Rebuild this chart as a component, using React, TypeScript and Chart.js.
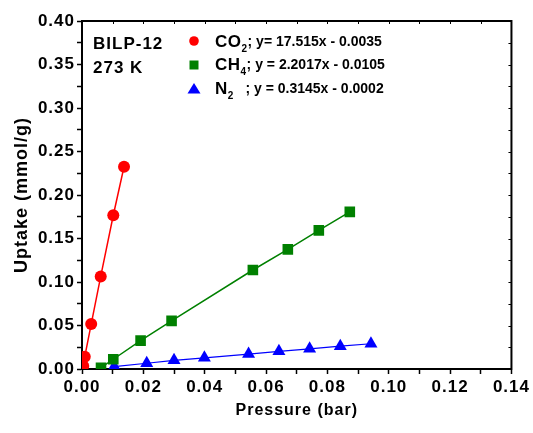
import React, { useEffect, useRef } from "react";
import { Chart, registerables } from "chart.js";

Chart.register(...registerables);

// ---- data ----
const co2Pressure = [0.0004, 0.0009, 0.003, 0.0061, 0.0102, 0.0137];
const co2Uptake = [0.0035, 0.0142, 0.0516, 0.1064, 0.1767, 0.2325];

const ch4Pressure = [0.0062, 0.0102, 0.0191, 0.0292, 0.0557, 0.0671, 0.0772, 0.0873];
const ch4Uptake = [0.0015, 0.0112, 0.0326, 0.0553, 0.1138, 0.1375, 0.1594, 0.1806];

const n2Pressure = [0.0105, 0.0211, 0.03, 0.0399, 0.0543, 0.0642, 0.0742, 0.0842, 0.0942];
const n2Uptake = [0.0028, 0.0066, 0.01, 0.0128, 0.0171, 0.0203, 0.0232, 0.0262, 0.029];

const xMin = 0;
const xMax = 0.14;
const xMajor = 0.02;
const xMinor = 0.01;
const yMin = 0;
const yMax = 0.4;
const yMajor = 0.05;
const yMinor = 0.025;

const sampleName = "BILP-12";
const temperature = "273 K";
const legendItems = [
  { gas: "CO", sub: "2", gap: "", eq: "; y= 17.515x - 0.0035", color: "#ff0000", shape: "circle" },
  { gas: "CH", sub: "4", gap: "", eq: "; y = 2.2017x - 0.0105", color: "#008000", shape: "rect" },
  { gas: "N", sub: "2", gap: "   ", eq: "; y = 0.3145x - 0.0002", color: "#0000ff", shape: "triangle" },
];

const FONT = "'Liberation Sans', Arial, Helvetica, sans-serif";

const zip = (xs: number[], ys: number[]) => xs.map((x, i) => ({ x, y: ys[i] }));

const isMultiple = (v: number, step: number) => {
  const r = v / step;
  return Math.abs(r - Math.round(r)) < 1e-6;
};

const spacingPlugin = {
  id: "spacing",
  beforeLayout(chart: any) {
    chart.ctx.letterSpacing = "1px";
  },
  beforeDraw(chart: any) {
    chart.ctx.letterSpacing = "1px";
  },
};

const framePlugin = {
  id: "frame",
  beforeDatasetsDraw(chart: any) {
    const { ctx, chartArea } = chart;
    const { left, right, top, bottom } = chartArea;
    ctx.save();
    ctx.strokeStyle = "#000";
    ctx.lineWidth = 2;
    ctx.beginPath();
    ctx.moveTo(left - 1, top);
    ctx.lineTo(right, top);
    ctx.lineTo(right, bottom + 1);
    ctx.stroke();
    ctx.lineWidth = 1;
    const xs = chart.scales.x;
    const ys = chart.scales.y;
    for (let v = xMin; v <= xMax + 1e-9; v += xMinor) {
      const px = Math.round(xs.getPixelForValue(v)) + 0.5;
      ctx.beginPath();
      ctx.moveTo(px, top);
      ctx.lineTo(px, top + 3);
      ctx.stroke();
    }
    for (let v = yMin; v <= yMax + 1e-9; v += yMinor) {
      const py = Math.round(ys.getPixelForValue(v)) + 0.5;
      ctx.beginPath();
      ctx.moveTo(right, py);
      ctx.lineTo(right - 3, py);
      ctx.stroke();
    }
    ctx.restore();
  },
};

const legendPlugin = {
  id: "customLegend",
  afterDraw(chart: any) {
    const { ctx } = chart;
    ctx.save();
    ctx.letterSpacing = "1px";
    ctx.fillStyle = "#000";
    ctx.textBaseline = "middle";
    ctx.textAlign = "left";
    ctx.font = `bold 17px ${FONT}`;
    ctx.fillText(sampleName, 93, 44);
    ctx.fillText(temperature, 93, 68);

    const rows = [42, 65, 89];
    legendItems.forEach((item, i) => {
      const y = rows[i];
      const mx = 194;
      ctx.fillStyle = item.color;
      ctx.beginPath();
      if (item.shape === "circle") {
        ctx.arc(mx, y - 1, 4.8, 0, Math.PI * 2);
      } else if (item.shape === "rect") {
        ctx.rect(mx - 4.5, y - 4.5, 9, 9);
      } else {
        ctx.moveTo(mx, y - 6);
        ctx.lineTo(mx + 6.5, y + 4.5);
        ctx.lineTo(mx - 6.5, y + 4.5);
        ctx.closePath();
      }
      ctx.fill();

      ctx.fillStyle = "#000";
      let x = 215;
      ctx.letterSpacing = "0.5px";
      ctx.font = `bold 17px ${FONT}`;
      ctx.fillText(item.gas, x, y);
      x += ctx.measureText(item.gas).width;
      ctx.font = `bold 10px ${FONT}`;
      ctx.fillText(item.sub, x, y + 7);
      x += ctx.measureText(item.sub).width;
      ctx.letterSpacing = "0px";
      ctx.font = `bold 14px ${FONT}`;
      const text = item.gap + item.eq;
      const target = 386 - x;
      const w = ctx.measureText(text).width;
      ctx.save();
      ctx.translate(x, y);
      ctx.scale(Math.min(1, target / w), 1);
      ctx.fillText(text, 0, 0);
      ctx.restore();
    });
    ctx.restore();
  },
};

export default function App() {
  const ref = useRef<HTMLCanvasElement | null>(null);

  useEffect(() => {
    if (!ref.current) return;
    const tickFont = { family: FONT, size: 17, weight: "bold" as const };
    const chart = new Chart(ref.current, {
      type: "line",
      data: {
        datasets: [
          {
            label: "CO2",
            data: zip(co2Pressure, co2Uptake),
            borderColor: "#ff0000",
            backgroundColor: "#ff0000",
            borderWidth: 1.5,
            pointStyle: "circle",
            pointRadius: 6,
            pointBorderWidth: 0,
            tension: 0,
          },
          {
            label: "CH4",
            data: zip(ch4Pressure, ch4Uptake),
            borderColor: "#008000",
            backgroundColor: "#008000",
            borderWidth: 1.5,
            pointStyle: "rect",
            pointRadius: 7.5,
            pointBorderWidth: 0,
            tension: 0,
          },
          {
            label: "N2",
            data: zip(n2Pressure, n2Uptake),
            borderColor: "#0000ff",
            backgroundColor: "#0000ff",
            borderWidth: 1.2,
            pointStyle: "triangle",
            pointRadius: 7.5,
            pointBorderWidth: 0,
            tension: 0,
          },
        ],
      },
      options: {
        animation: false,
        responsive: false,
        events: [],
        layout: { padding: { top: 21, right: 21, left: 0, bottom: 0 } },
        plugins: {
          legend: { display: false },
          tooltip: { enabled: false },
        },
        scales: {
          x: {
            type: "linear",
            min: xMin,
            max: xMax,
            afterFit: (s: any) => {
              s.height = 64;
            },
            ticks: {
              stepSize: xMinor,
              autoSkip: false,
              maxRotation: 0,
              padding: 3,
              color: "#000",
              font: tickFont,
              callback: (v: any) => (isMultiple(Number(v), xMajor) ? Number(v).toFixed(2) : ""),
            },
            grid: {
              drawOnChartArea: false,
              drawTicks: true,
              tickLength: 5,
              tickColor: "#000",
              tickWidth: 1.5,
            },
            border: { display: true, color: "#000", width: 2 },
            title: {
              display: true,
              text: "Pressure (bar)",
              color: "#000",
              font: { family: FONT, size: 16, weight: "bold" as const },
              padding: { top: 0, bottom: 13 },
            },
          },
          y: {
            type: "linear",
            min: yMin,
            max: yMax,
            afterFit: (s: any) => {
              s.width = 82;
            },
            ticks: {
              stepSize: yMinor,
              autoSkip: false,
              padding: 2,
              color: "#000",
              font: tickFont,
              callback: (v: any) => (isMultiple(Number(v), yMajor) ? Number(v).toFixed(2) : ""),
            },
            grid: {
              drawOnChartArea: false,
              drawTicks: true,
              tickLength: 5,
              tickColor: "#000",
              tickWidth: 1.5,
            },
            border: { display: true, color: "#000", width: 2 },
            title: {
              display: true,
              text: "Uptake (mmol/g)",
              color: "#000",
              font: { family: FONT, size: 18, weight: "bold" as const },
              padding: { top: 11, bottom: 0 },
            },
          },
        },
      },
      plugins: [spacingPlugin, framePlugin, legendPlugin],
    });
    return () => chart.destroy();
  }, []);

  return (
    <div style={{ position: "fixed", left: 0, top: 0, width: 533, height: 433, background: "#fff" }}>
      <canvas ref={ref} width={533} height={433} style={{ display: "block" }} />
    </div>
  );
}
